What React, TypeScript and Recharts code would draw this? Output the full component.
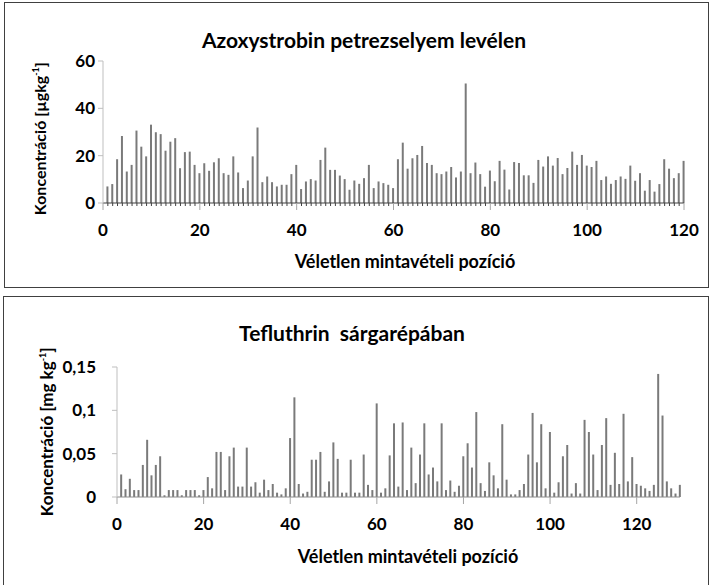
import { Bar, BarChart, XAxis, YAxis } from "recharts";

const topValues = [
  7.0, 8.0, 18.5, 28.3, 13.3, 16.1, 30.6, 23.8, 19.7, 33.1,
  29.9, 29.1, 22.1, 25.9, 27.4, 14.7, 21.5, 21.7, 16.1, 12.6,
  16.8, 13.6, 17.2, 18.9, 12.6, 11.9, 19.7, 12.9, 6.3, 9.5,
  19.7, 31.9, 8.8, 11.2, 8.8, 7.0, 7.7, 7.7, 12.2, 16.1,
  5.9, 9.1, 10.1, 9.5, 18.2, 23.4, 14.0, 14.0, 11.6, 10.1,
  5.6, 9.5, 8.1, 10.5, 16.1, 6.3, 9.1, 8.4, 7.7, 6.3,
  18.5, 25.5, 14.5, 18.9, 20.3, 24.1, 16.9, 16.1, 12.6, 12.2,
  13.3, 15.2, 10.8, 13.3, 50.5, 12.6, 17.1, 12.2, 6.9, 13.7,
  9.2, 17.8, 14.1, 5.7, 17.3, 16.9, 11.7, 11.7, 8.5, 18.2,
  15.4, 19.7, 15.8, 19.0, 12.2, 14.8, 21.7, 16.1, 20.3, 15.8,
  15.2, 17.8, 9.7, 11.2, 8.1, 9.7, 11.2, 10.2, 15.8, 9.4,
  12.6, 5.2, 9.7, 4.8, 8.0, 18.5, 14.5, 10.5, 12.6, 17.8,
];

const bottomValues = [
  0.026, 0.009, 0.021, 0.008, 0.008, 0.037, 0.066, 0.025, 0.037, 0.047,
  0.002, 0.008, 0.008, 0.008, 0.002, 0.008, 0.008, 0.008, 0.002, 0.008,
  0.023, 0.01, 0.052, 0.052, 0.008, 0.047, 0.057, 0.012, 0.012, 0.057,
  0.012, 0.017, 0.005, 0.02, 0.008, 0.015, 0.005, 0.003, 0.01, 0.068,
  0.115, 0.015, 0.004, 0.006, 0.043, 0.043, 0.052, 0.006, 0.018, 0.063,
  0.044, 0.005, 0.005, 0.043, 0.005, 0.005, 0.049, 0.014, 0.008, 0.108,
  0.005, 0.01, 0.048, 0.085, 0.012, 0.086, 0.008, 0.057, 0.016, 0.049,
  0.085, 0.026, 0.034, 0.018, 0.085, 0.008, 0.019, 0.006, 0.013, 0.047,
  0.062, 0.034, 0.098, 0.016, 0.007, 0.04, 0.025, 0.01, 0.084, 0.02,
  0.003, 0.003, 0.008, 0.015, 0.049, 0.097, 0.04, 0.084, 0.01, 0.075,
  0.005, 0.017, 0.047, 0.06, 0.004, 0.016, 0.004, 0.089, 0.075, 0.049,
  0.008, 0.06, 0.091, 0.014, 0.051, 0.015, 0.096, 0.018, 0.046, 0.015,
  0.013, 0.01, 0.007, 0.014, 0.142, 0.094, 0.018, 0.01, 0.004, 0.014,
];

const topYTicks = [0, 20, 40, 60];
const bottomYTicks = [0, 0.05, 0.1, 0.15];

const topTitle = "Azoxystrobin petrezselyem levélen";
const bottomTitle = "Tefluthrin  sárgarépában";
const xTitle = "Véletlen mintavételi pozíció";

const topData = topValues.map((v, i) => ({ x: i + 1, v }));
const bottomData = bottomValues.map((v, i) => ({ x: i + 1, v }));
const topXTicks = Array.from({ length: 121 }, (_, i) => i);
const bottomXTicks = Array.from({ length: 131 }, (_, i) => i);

const FONT = "Lato, 'Open Sans', sans-serif";
const tickFont = { fill: "#000", fontSize: 17, fontWeight: 700, fontFamily: FONT };

function makeXTick(minor: boolean) {
  return (props: any) => {
    const { x, y, payload } = props;
    const major = payload.value % 20 === 0;
    return (
      <g>
        {major && <line x1={x} x2={x} y1={y} y2={y + 7} stroke="#a6a6a6" />}
        {minor && !major && <line x1={x} x2={x} y1={y} y2={y + 3} stroke="#404040" />}
        {major && (
          <text x={x} y={y + 33} textAnchor="middle" {...tickFont}>
            {payload.value}
          </text>
        )}
      </g>
    );
  };
}

const textStyle: React.CSSProperties = {
  position: "absolute",
  fontFamily: FONT,
  fontWeight: 700,
  color: "#000",
  textAlign: "center",
  whiteSpace: "pre",
};

export default function App() {
  return (
    <div
      style={{
        position: "absolute",
        left: 0,
        top: 0,
        width: 713,
        height: 585,
        overflow: "hidden",
        background: "#fff",
      }}
    >
      <div
        style={{
          position: "absolute",
          left: 4,
          top: 2,
          width: 705,
          height: 286,
          border: "1.5px solid #404040",
          boxSizing: "border-box",
        }}
      />
      <div
        style={{
          position: "absolute",
          left: 3,
          top: 296,
          width: 706,
          height: 300,
          border: "1.5px solid #404040",
          boxSizing: "border-box",
        }}
      />

      <div style={{ position: "absolute", left: 0, top: 0 }}>
        <BarChart
          width={713}
          height={290}
          data={topData}
          margin={{ top: 61, right: 29, bottom: 57, left: 43 }}
        >
          <XAxis
            dataKey="x"
            type="number"
            domain={[0, 120]}
            ticks={topXTicks}
            interval={0}
            height={30}
            tickSize={0}
            tickMargin={0}
            tickLine={false}
            axisLine={{ stroke: "#404040" }}
            tick={makeXTick(true)}
          />
          <YAxis
            domain={[0, 60]}
            ticks={topYTicks}
            width={60}
            tickSize={5}
            tickMargin={3}
            axisLine={{ stroke: "#bfbfbf" }}
            tickLine={{ stroke: "#bfbfbf" }}
            tick={tickFont}
          />
          <Bar dataKey="v" fill="#7a7a7a" barSize={2} isAnimationActive={false} />
        </BarChart>
      </div>

      <div style={{ position: "absolute", left: 0, top: 290 }}>
        <BarChart
          width={713}
          height={295}
          data={bottomData}
          margin={{ top: 77, right: 33, bottom: 58, left: 57 }}
        >
          <XAxis
            dataKey="x"
            type="number"
            domain={[0, 130]}
            ticks={bottomXTicks}
            interval={0}
            height={30}
            tickSize={0}
            tickMargin={0}
            tickLine={false}
            axisLine={{ stroke: "#8c8c8c" }}
            tick={makeXTick(false)}
          />
          <YAxis
            domain={[0, 0.15]}
            ticks={bottomYTicks}
            width={60}
            tickSize={5}
            tickMargin={16}
            axisLine={{ stroke: "#bfbfbf" }}
            tickLine={{ stroke: "#bfbfbf" }}
            tick={tickFont}
            tickFormatter={(v: number) => String(v).replace(".", ",")}
          />
          <Bar dataKey="v" fill="#7a7a7a" barSize={2} isAnimationActive={false} />
        </BarChart>
      </div>

      <div style={{ ...textStyle, left: 164, top: 28, width: 400, fontSize: 21, lineHeight: "24px" }}>
        {topTitle}
      </div>
      <div style={{ ...textStyle, left: 255, top: 250, width: 300, fontSize: 18, lineHeight: "22px" }}>
        {xTitle}
      </div>
      <div style={{ ...textStyle, left: 152, top: 321, width: 400, fontSize: 21, lineHeight: "24px" }}>
        {bottomTitle}
      </div>
      <div style={{ ...textStyle, left: 258, top: 545, width: 300, fontSize: 18, lineHeight: "22px" }}>
        {xTitle}
      </div>
      <div
        style={{
          ...textStyle,
          left: 38 - 110,
          top: 137 - 10,
          width: 220,
          fontSize: 16,
          lineHeight: "20px",
          transform: "rotate(-90deg)",
        }}
      >
        Koncentráció [µgkg<sup style={{ fontSize: 9 }}>-1</sup>]
      </div>
      <div
        style={{
          ...textStyle,
          left: 45 - 110,
          top: 430 - 10,
          width: 220,
          fontSize: 17,
          lineHeight: "20px",
          transform: "rotate(-90deg)",
        }}
      >
        Koncentráció [mg kg<sup style={{ fontSize: 9 }}>-1</sup>]
      </div>
    </div>
  );
}
